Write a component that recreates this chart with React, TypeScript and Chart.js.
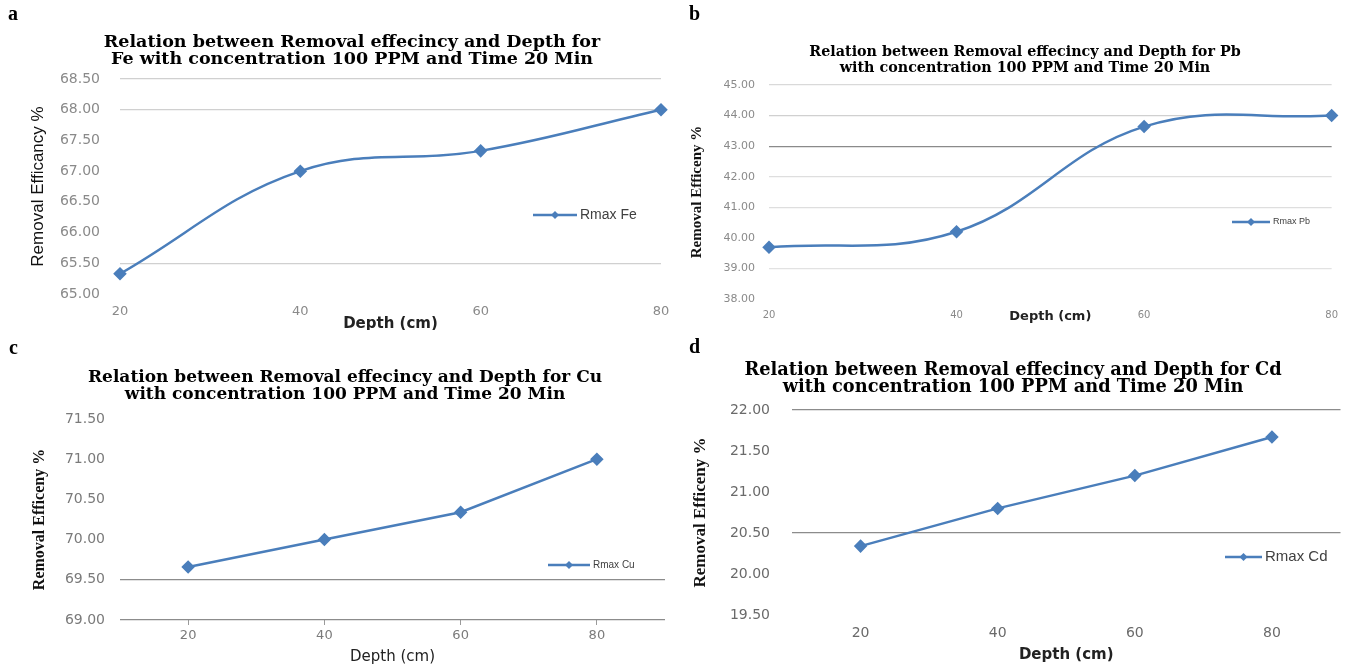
import React, { useEffect, useRef } from 'react';
import { Chart, registerables } from 'chart.js';

Chart.register(...registerables);

// ---------------- data ----------------
const depthLabels = ['20', '40', '60', '80'];

const feValues = [65.33, 67.0, 67.33, 68.0];
const pbValues = [39.69, 40.2, 43.64, 44.0];
const cuValues = [69.66, 70.0, 70.34, 71.0];
const cdValues = [20.34, 20.8, 21.2, 21.67];

const feRange = [65, 68.5, 0.5];
const pbRange = [38, 45, 1];
const cuRange = [69, 71.5, 0.5];
const cdRange = [19.5, 22, 0.5];

const feTitle = ['Relation between Removal effecincy and Depth for', 'Fe with concentration 100 PPM and Time 20 Min'];
const pbTitle = ['Relation between Removal effecincy and Depth for Pb', 'with concentration 100 PPM and Time 20 Min'];
const cuTitle = ['Relation between Removal effecincy and Depth for Cu', 'with concentration 100 PPM and Time 20 Min'];
const cdTitle = ['Relation between Removal effecincy and Depth for Cd', 'with concentration 100 PPM and Time 20 Min'];

const seriesNames = ['Rmax Fe', 'Rmax Pb', 'Rmax Cu', 'Rmax Cd'];
const yTitles = ['Removal Efficancy %', 'Removal Efficeny %', 'Removal Efficeny %', 'Removal Efficeny %'];
const xTitle = 'Depth (cm)';
const panelLetters = ['a', 'b', 'c', 'd'];

const BLUE = '#4a7ebb';

// ---------------- legend plugin ----------------
const inlineLegend = {
  id: 'inlineLegend',
  afterDraw(chart: any, _args: any, opts: any) {
    if (!opts || opts.x === undefined) return;
    const ds = chart.data.datasets[0];
    const ctx = chart.ctx;
    ctx.save();
    ctx.strokeStyle = ds.borderColor;
    ctx.lineWidth = 2.5;
    ctx.beginPath();
    ctx.moveTo(opts.x, opts.y);
    ctx.lineTo(opts.x + opts.len, opts.y);
    ctx.stroke();
    const cx = opts.x + opts.len / 2;
    const r = 4;
    ctx.fillStyle = ds.borderColor;
    ctx.beginPath();
    ctx.moveTo(cx, opts.y - r);
    ctx.lineTo(cx + r, opts.y);
    ctx.lineTo(cx, opts.y + r);
    ctx.lineTo(cx - r, opts.y);
    ctx.closePath();
    ctx.fill();
    ctx.fillStyle = opts.color || '#404040';
    ctx.font = `${opts.size}px "Liberation Sans", Arial, sans-serif`;
    ctx.textBaseline = 'middle';
    ctx.textAlign = 'left';
    ctx.fillText(ds.label, opts.x + opts.len + 3, opts.y);
    ctx.restore();
  },
};

type Spec = {
  canvas: { left: number; top: number; width: number; height: number };
  padding: { left: number; right: number; top: number; bottom: number };
  title: { text: string[]; size: number; lh: number; padTop: number; padBottom: number };
  values: number[];
  name: string;
  range: number[];
  tension: number;
  y: {
    width: number; tickSize: number; tickPad: number; tickColor: string;
    title: string; titleFamily: string; titleSize: number; titleWeight: string; titlePad: number;
    grid: Record<string, string>;
  };
  x: {
    height: number; offset: boolean; tickSize: number; tickPad: number; tickColor: string;
    drawTicks: boolean; titleSize: number; titleWeight: string; titlePadBottom: number;
  };
  legend: { x: number; y: number; len: number; size: number };
};

function buildConfig(s: Spec): any {
  return {
    type: 'line',
    data: {
      labels: depthLabels,
      datasets: [
        {
          label: s.name,
          data: s.values,
          borderColor: BLUE,
          backgroundColor: BLUE,
          borderWidth: 2.5,
          pointStyle: 'rectRot',
          pointRadius: 5,
          pointBackgroundColor: BLUE,
          pointBorderColor: BLUE,
          tension: s.tension,
          clip: false,
        },
      ],
    },
    options: {
      responsive: false,
      animation: false,
      devicePixelRatio: 1,
      layout: { padding: s.padding },
      plugins: {
        legend: { display: false },
        tooltip: { enabled: false },
        title: {
          display: true,
          text: s.title.text,
          color: '#000',
          font: { family: '"DejaVu Serif", serif', weight: 'bold', size: s.title.size, lineHeight: s.title.lh / s.title.size },
          padding: { top: s.title.padTop, bottom: s.title.padBottom },
        },
        inlineLegend: { x: s.legend.x, y: s.legend.y, len: s.legend.len, size: s.legend.size },
      },
      scales: {
        x: {
          type: 'category',
          offset: s.x.offset,
          border: { display: false },
          grid: {
            display: s.x.drawTicks,
            drawOnChartArea: false,
            drawTicks: s.x.drawTicks,
            tickLength: 5,
            color: '#9a9a9a',
          },
          ticks: {
            color: s.x.tickColor,
            padding: s.x.tickPad,
            maxRotation: 0,
            font: { family: '"DejaVu Sans", sans-serif', size: s.x.tickSize, lineHeight: 1.2 },
          },
          title: {
            display: true,
            text: xTitle,
            color: '#222',
            font: { family: '"DejaVu Sans", sans-serif', size: s.x.titleSize, weight: s.x.titleWeight, lineHeight: 1.2 },
            padding: { top: 0, bottom: s.x.titlePadBottom },
          },
          afterFit: (scale: any) => {
            scale.height = s.x.height;
          },
        },
        y: {
          min: s.range[0],
          max: s.range[1],
          border: { display: false },
          grid: {
            drawTicks: false,
            lineWidth: 1.2,
            color: (ctx: any) => {
              if (!ctx.tick) return 'transparent';
              const key = Number(ctx.tick.value).toFixed(2);
              return s.y.grid[key] || 'transparent';
            },
          },
          ticks: {
            stepSize: s.range[2],
            color: s.y.tickColor,
            padding: s.y.tickPad,
            font: { family: '"DejaVu Sans", sans-serif', size: s.y.tickSize, lineHeight: 1.2 },
            callback: (v: any) => Number(v).toFixed(2),
          },
          title: {
            display: true,
            text: s.y.title,
            color: '#111',
            font: { family: s.y.titleFamily, size: s.y.titleSize, weight: s.y.titleWeight, lineHeight: 1.2 },
            padding: { top: s.y.titlePad, bottom: 0 },
          },
          afterFit: (scale: any) => {
            scale.width = s.y.width;
          },
        },
      },
    },
    plugins: [inlineLegend],
  };
}

const specs: Spec[] = [
  {
    canvas: { left: 0, top: 0, width: 680, height: 330 },
    padding: { left: 43, right: 19, top: 0, bottom: 0 },
    title: { text: feTitle, size: 17.5, lh: 17, padTop: 34, padBottom: 11 },
    values: feValues,
    name: seriesNames[0],
    range: feRange,
    tension: 0.4,
    y: {
      width: 77, tickSize: 14, tickPad: 20, tickColor: '#8a8a8a',
      title: yTitles[0], titleFamily: '"Liberation Sans", Arial, sans-serif', titleSize: 17, titleWeight: 'normal', titlePad: -15,
      grid: { '68.50': '#d0d0d0', '68.00': '#d0d0d0', '65.50': '#d0d0d0' },
    },
    x: { height: 36, offset: false, tickSize: 13, tickPad: 10, tickColor: '#8a8a8a', drawTicks: false, titleSize: 15, titleWeight: 'bold', titlePadBottom: -3 },
    legend: { x: 533, y: 215, len: 44, size: 14 },
  },
  {
    canvas: { left: 680, top: 0, width: 668, height: 330 },
    padding: { left: 33, right: 11, top: 0, bottom: 0 },
    title: { text: pbTitle, size: 14.3, lh: 16, padTop: 44, padBottom: 9 },
    values: pbValues,
    name: seriesNames[1],
    range: pbRange,
    tension: 0.4,
    y: {
      width: 56, tickSize: 11, tickPad: 14, tickColor: '#8a8a8a',
      title: yTitles[1], titleFamily: '"Liberation Serif", "Times New Roman", serif', titleSize: 15, titleWeight: 'bold', titlePad: -25,
      grid: { '45.00': '#d9d9d9', '44.00': '#d0d0d0', '43.00': '#8a8a8a', '42.00': '#dedede', '41.00': '#dedede', '39.00': '#e2e2e2' },
    },
    x: { height: 31, offset: false, tickSize: 10, tickPad: 10, tickColor: '#8a8a8a', drawTicks: false, titleSize: 13, titleWeight: 'bold', titlePadBottom: 6 },
    legend: { x: 552, y: 222, len: 38, size: 9 },
  },
  {
    canvas: { left: 0, top: 330, width: 680, height: 338 },
    padding: { left: 25, right: 15, top: 0, bottom: 0 },
    title: { text: cuTitle, size: 17, lh: 17, padTop: 39.5, padBottom: 15.5 },
    values: cuValues,
    name: seriesNames[2],
    range: cuRange,
    tension: 0,
    y: {
      width: 95, tickSize: 14, tickPad: 15, tickColor: '#7a7a7a',
      title: yTitles[2], titleFamily: '"Liberation Serif", "Times New Roman", serif', titleSize: 16, titleWeight: 'bold', titlePad: 5.4,
      grid: { '69.50': '#8c8c8c', '69.00': '#8c8c8c' },
    },
    x: { height: 48, offset: true, tickSize: 13, tickPad: 3, tickColor: '#7a7a7a', drawTicks: true, titleSize: 15, titleWeight: 'normal', titlePadBottom: 2 },
    legend: { x: 548, y: 235, len: 42, size: 10 },
  },
  {
    canvas: { left: 680, top: 330, width: 668, height: 338 },
    padding: { left: 3, right: 5, top: 0, bottom: 0 },
    title: { text: cdTitle, size: 17.8, lh: 17, padTop: 31.5, padBottom: 14.5 },
    values: cdValues,
    name: seriesNames[3],
    range: cdRange,
    tension: 0,
    y: {
      width: 109, tickSize: 14, tickPad: 22, tickColor: '#6a6a6a',
      title: yTitles[3], titleFamily: '"Liberation Serif", "Times New Roman", serif', titleSize: 17, titleWeight: 'bold', titlePad: 7,
      grid: { '22.00': '#8c8c8c', '20.50': '#8c8c8c' },
    },
    x: { height: 53, offset: true, tickSize: 14, tickPad: 9.6, tickColor: '#6a6a6a', drawTicks: false, titleSize: 15, titleWeight: 'bold', titlePadBottom: 4 },
    legend: { x: 545, y: 227, len: 37, size: 15 },
  },
];

const letterPos = [
  { left: 8, top: 3 },
  { left: 689, top: 3 },
  { left: 9, top: 337 },
  { left: 689, top: 336 },
];

function Panel({ spec }: { spec: Spec }) {
  const ref = useRef<HTMLCanvasElement | null>(null);
  useEffect(() => {
    if (!ref.current) return;
    const chart = new Chart(ref.current, buildConfig(spec));
    return () => chart.destroy();
  }, [spec]);
  return (
    <canvas
      ref={ref}
      width={spec.canvas.width}
      height={spec.canvas.height}
      style={{
        position: 'absolute',
        left: spec.canvas.left,
        top: spec.canvas.top,
        width: spec.canvas.width,
        height: spec.canvas.height,
      }}
    />
  );
}

export default function App() {
  return (
    <div
      style={{
        position: 'absolute',
        left: 0,
        top: 0,
        width: 1348,
        height: 668,
        overflow: 'hidden',
        background: '#fff',
      }}
    >
      {specs.map((s, i) => (
        <Panel key={i} spec={s} />
      ))}
      {panelLetters.map((l, i) => (
        <div
          key={l}
          style={{
            position: 'absolute',
            left: letterPos[i].left,
            top: letterPos[i].top,
            font: 'bold 20px "Liberation Serif", "Times New Roman", serif',
            color: '#000',
            lineHeight: '20px',
          }}
        >
          {l}
        </div>
      ))}
    </div>
  );
}
